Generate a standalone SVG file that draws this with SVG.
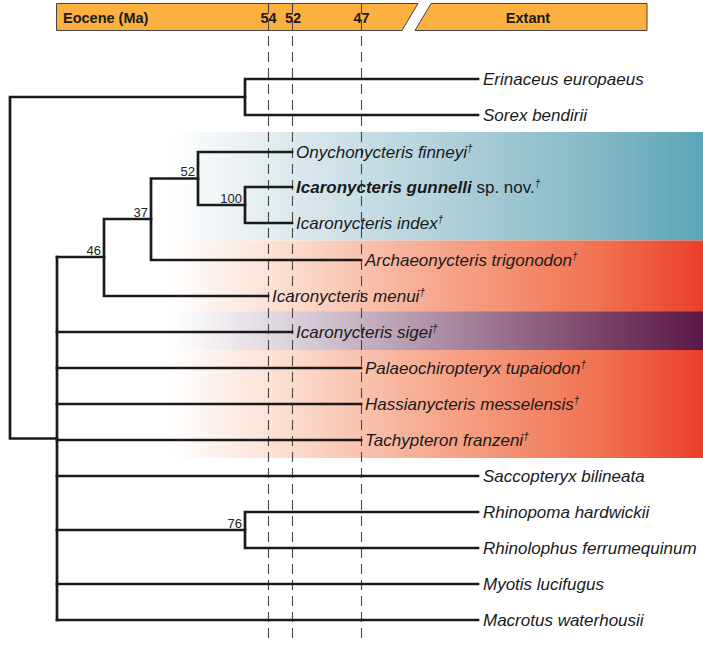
<svg xmlns="http://www.w3.org/2000/svg" width="703" height="646" viewBox="0 0 703 646">
<style>
text{font-family:"Liberation Sans",Arial,sans-serif;fill:#1a1a1a}
.leaf{font-size:17px;font-style:italic}
.sup{font-size:10px}
.bs{font-size:13px;text-anchor:end;fill:#222}
.bar{fill:#fbb040;stroke:#444;stroke-width:1}
.bt{font-size:14.5px;font-weight:bold}
.tree{fill:none;stroke:#1a1a1a;stroke-width:2.7;stroke-linecap:square;stroke-linejoin:miter}
.dash{stroke:#444;stroke-width:1.1;stroke-dasharray:10 6}
</style>
<defs>
<linearGradient id="gBlue" gradientUnits="userSpaceOnUse" x1="172" y1="0" x2="703" y2="0">
<stop offset="0" stop-color="#ffffff"/>
<stop offset="0.22" stop-color="#dde9ee"/>
<stop offset="0.5" stop-color="#b3d2db"/>
<stop offset="0.8" stop-color="#84b8c6"/>
<stop offset="1" stop-color="#5ba6b7"/>
</linearGradient>
<linearGradient id="gRed" gradientUnits="userSpaceOnUse" x1="172" y1="0" x2="703" y2="0">
<stop offset="0" stop-color="#ffffff"/>
<stop offset="0.22" stop-color="#fcdccd"/>
<stop offset="0.5" stop-color="#f6a78d"/>
<stop offset="0.8" stop-color="#f07352"/>
<stop offset="1" stop-color="#eb3e2b"/>
</linearGradient>
<linearGradient id="gPurple" gradientUnits="userSpaceOnUse" x1="172" y1="0" x2="703" y2="0">
<stop offset="0" stop-color="#ffffff"/>
<stop offset="0.22" stop-color="#dcd2dc"/>
<stop offset="0.5" stop-color="#ae8fa6"/>
<stop offset="0.8" stop-color="#7b4468"/>
<stop offset="1" stop-color="#5a1848"/>
</linearGradient>
</defs>
<g id="bands">
<rect x="172" y="132" width="531" height="108.5" fill="url(#gBlue)"/>
<rect x="172" y="240.5" width="531" height="217.5" fill="url(#gRed)"/>
<rect x="172" y="311.5" width="531" height="38.5" fill="url(#gPurple)"/>
</g>
<g id="timebar">
<polygon class="bar" points="56.5,3.5 418,3.5 402,30.5 56.5,30.5"/>
<polygon class="bar" points="431,3.5 647,3.5 647,30.5 415,30.5"/>
<text class="bt" x="63" y="22.5">Eocene (Ma)</text>
<text class="bt" x="268.5" y="22.5" text-anchor="middle">54</text>
<text class="bt" x="293" y="22.5" text-anchor="middle">52</text>
<text class="bt" x="361.5" y="22.5" text-anchor="middle">47</text>
<text class="bt" x="528" y="22.5" text-anchor="middle">Extant</text>
</g>
<g id="timelines">
<line class="dash" x1="268.5" y1="4" x2="268.5" y2="644"/>
<line class="dash" x1="292.5" y1="4" x2="292.5" y2="644"/>
<line class="dash" x1="361.5" y1="4" x2="361.5" y2="644"/>
</g>
<g id="connectors" class="tree">
<path d="M478,79 H245 V115 H478"/>
<path d="M245,97 H10 V438.5 H57"/>
<path d="M57,257 V620"/>
<path d="M57,257 H104"/>
<path d="M151,219 H104 V296 H268"/>
<path d="M198,178.5 H151 V260 H361"/>
<path d="M292,152 H198 V205 H245"/>
<path d="M292,187 H245 V223 H292"/>
<path d="M57,332 H292"/>
<path d="M57,368 H361"/>
<path d="M57,404 H361"/>
<path d="M57,440 H361"/>
<path d="M57,476 H478"/>
<path d="M57,530 H245"/>
<path d="M478,512 H245 V548 H478"/>
<path d="M57,584 H478"/>
<path d="M57,620 H478"/>
</g>
<g id="node-52"><text class="bs" x="195" y="176">52</text></g>
<g id="node-100"><text class="bs" x="242" y="202.5">100</text></g>
<g id="node-37"><text class="bs" x="148" y="216.5">37</text></g>
<g id="node-46"><text class="bs" x="101" y="254.5">46</text></g>
<g id="node-76"><text class="bs" x="242" y="527.5">76</text></g>
<g id="leaf-erinaceus"><text class="leaf" x="483" y="85">Erinaceus europaeus</text></g>
<g id="leaf-sorex"><text class="leaf" x="483" y="121">Sorex bendirii</text></g>
<g id="leaf-onychonycteris"><text class="leaf" x="296" y="158">Onychonycteris finneyi<tspan class="sup" dy="-6">†</tspan></text></g>
<g id="leaf-gunnelli"><text class="leaf" x="296" y="193"><tspan font-weight="bold">Icaronycteris gunnelli</tspan><tspan font-style="normal"> sp. nov.</tspan><tspan class="sup" dy="-6">†</tspan></text></g>
<g id="leaf-index"><text class="leaf" x="296" y="229">Icaronycteris index<tspan class="sup" dy="-6">†</tspan></text></g>
<g id="leaf-archaeonycteris"><text class="leaf" x="365" y="266">Archaeonycteris trigonodon<tspan class="sup" dy="-6">†</tspan></text></g>
<g id="leaf-menui"><text class="leaf" x="272" y="302">Icaronycteris menui<tspan class="sup" dy="-6">†</tspan></text></g>
<g id="leaf-sigei"><text class="leaf" x="296" y="338">Icaronycteris sigei<tspan class="sup" dy="-6">†</tspan></text></g>
<g id="leaf-palaeochiropteryx"><text class="leaf" x="365" y="374">Palaeochiropteryx tupaiodon<tspan class="sup" dy="-6">†</tspan></text></g>
<g id="leaf-hassianycteris"><text class="leaf" x="365" y="410">Hassianycteris messelensis<tspan class="sup" dy="-6">†</tspan></text></g>
<g id="leaf-tachypteron"><text class="leaf" x="365" y="446">Tachypteron franzeni<tspan class="sup" dy="-6">†</tspan></text></g>
<g id="leaf-saccopteryx"><text class="leaf" x="483" y="482">Saccopteryx bilineata</text></g>
<g id="leaf-rhinopoma"><text class="leaf" x="483" y="518">Rhinopoma hardwickii</text></g>
<g id="leaf-rhinolophus"><text class="leaf" x="483" y="554">Rhinolophus ferrumequinum</text></g>
<g id="leaf-myotis"><text class="leaf" x="483" y="590">Myotis lucifugus</text></g>
<g id="leaf-macrotus"><text class="leaf" x="483" y="626">Macrotus waterhousii</text></g>
</svg>
